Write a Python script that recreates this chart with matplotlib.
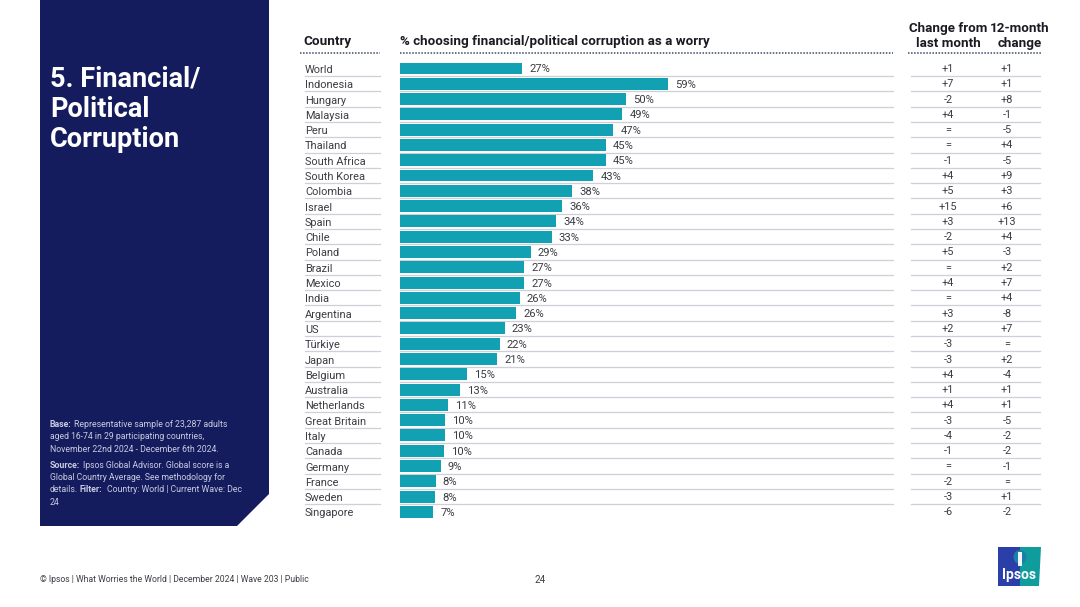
import matplotlib
matplotlib.use('Agg')
import matplotlib.pyplot as plt
from matplotlib.patches import Polygon, Ellipse

plt.rcParams['font.family'] = ['Roboto', 'DejaVu Sans']

# datos
paises = ['World', 'Indonesia', 'Hungary', 'Malaysia', 'Peru', 'Thailand', 'South Africa',
          'South Korea', 'Colombia', 'Israel', 'Spain', 'Chile', 'Poland', 'Brazil', 'Mexico',
          'India', 'Argentina', 'US', 'Türkiye', 'Japan', 'Belgium', 'Australia', 'Netherlands',
          'Great Britain', 'Italy', 'Canada', 'Germany', 'France', 'Sweden', 'Singapore']
valores = [26.9, 59.0, 49.8, 49.0, 47.0, 45.4, 45.4, 42.6, 37.9, 35.7, 34.4, 33.4, 28.8, 27.4,
           27.4, 26.4, 25.6, 23.1, 22.0, 21.4, 14.8, 13.2, 10.6, 10.0, 10.0, 9.7, 9.0, 7.9, 7.7, 7.3]
cambio_mes = ['+1', '+7', '-2', '+4', '=', '=', '-1', '+4', '+5', '+15', '+3', '-2', '+5', '=', '+4',
              '=', '+3', '+2', '-3', '-3', '+4', '+1', '+4', '-3', '-4', '-1', '=', '-2', '-3', '-6']
cambio_anual = ['+1', '+1', '+8', '-1', '-5', '+4', '-5', '+9', '+3', '+6', '+13', '+4', '-3', '+2', '+7',
                '+4', '-8', '+7', '=', '+2', '-4', '+1', '+1', '-5', '-2', '-2', '-1', '=', '+1', '-2']

AZUL = '#141c5e'
TEAL = '#12a1b3'
TEXTO = '#3c3c44'
LINEA = '#cfcfd8'
OSCURO = '#1a1a22'

ANCHO, ALTO = 1080, 607
PRIMERA, PASO = 68.5, 15.29

fig = plt.figure(figsize=(ANCHO / 100, ALTO / 100), dpi=100, facecolor='white')

# capa en pixeles para textos y formas
fondo = fig.add_axes([0, 0, 1, 1])
fondo.set_xlim(0, ANCHO)
fondo.set_ylim(ALTO, 0)
fondo.axis('off')

fondo.add_patch(Polygon([(40, 0), (269, 0), (269, 494), (237, 526), (40, 526)], color=AZUL, lw=0))
for y, linea in [(87, '5. Financial/'), (117, 'Political'), (147, 'Corruption')]:
    fondo.text(50, y, linea, color='white', fontsize=19.5, fontweight='bold', va='baseline')

nota = '#c9cbe0'
fondo.text(50, 424.5, 'Base:', color=nota, fontsize=6.3, fontweight='bold', va='center')
fondo.text(74, 424.5, 'Representative sample of 23,287 adults', color=nota, fontsize=6.3, va='center')
fondo.text(50, 436.5, 'aged 16-74 in 29 participating countries,', color=nota, fontsize=6.2, va='center')
fondo.text(50, 449, 'November 22nd 2024 - December 6th 2024.', color=nota, fontsize=6.3, va='center')
fondo.text(50, 465.5, 'Source:', color=nota, fontsize=6.3, fontweight='bold', va='center')
fondo.text(83, 465.5, 'Ipsos Global Advisor. Global score is a', color=nota, fontsize=6.2, va='center')
fondo.text(50, 478, 'Global Country Average. See methodology for', color=nota, fontsize=6.2, va='center')
fondo.text(50, 490, 'details.', color=nota, fontsize=6.3, va='center')
fondo.text(80, 490, 'Filter:', color=nota, fontsize=6.3, fontweight='bold', va='center')
fondo.text(107, 490, 'Country: World | Current Wave: Dec', color=nota, fontsize=6.3, va='center')
fondo.text(50, 502.5, '24', color=nota, fontsize=6.3, va='center')

# encabezados
fondo.text(303, 41.5, 'Country', color=OSCURO, fontsize=9.7, fontweight='bold', va='center')
fondo.text(400, 41.5, '% choosing financial/political corruption as a worry', color=OSCURO,
           fontsize=9.65, fontweight='bold', va='center')
fondo.text(948, 36, 'Change from\nlast month', color=OSCURO, fontsize=9.6, fontweight='bold',
           va='center', ha='center', linespacing=1.25)
fondo.text(1020, 36, '12-month\nchange', color=OSCURO, fontsize=9.6, fontweight='bold',
           va='center', ha='center', linespacing=1.25)
for x0, x1 in [(300, 380), (400, 893), (908, 1042)]:
    fondo.plot([x0, x1], [53, 53], color='#3d4a66', lw=1.1, ls=(0, (1, 1)))

# filas de la tabla
for i, pais in enumerate(paises):
    y = PRIMERA + i * PASO
    fondo.text(305, y + 1.5, pais, color=TEXTO, fontsize=7.9, va='center')
    fondo.text(948, y + 0.5, cambio_mes[i], color=TEXTO, fontsize=7.8, va='center', ha='center')
    fondo.text(1007, y + 0.5, cambio_anual[i], color=TEXTO, fontsize=7.8, va='center', ha='center')
    if i < len(paises) - 1:
        for x0, x1 in [(305, 380), (400, 893), (911, 1040)]:
            fondo.plot([x0, x1], [y + 7.6, y + 7.6], color=LINEA, lw=0.9)

# barras
arriba = PRIMERA - PASO / 2
barras = fig.add_axes([400 / ANCHO, 1 - (arriba + 30 * PASO) / ALTO, 454 / ANCHO, 30 * PASO / ALTO])
barras.patch.set_alpha(0)
barras.barh(range(len(paises)), valores, height=0.78, color=TEAL)
barras.set_xlim(0, 100)
barras.set_ylim(29.5, -0.5)
barras.axis('off')
for i, v in enumerate(valores):
    barras.annotate(f'{round(v)}%', (v, i), xytext=(7, -1), textcoords='offset pixels', color=TEXTO,
                    fontsize=8.1, va='center')

# pie de pagina
fondo.text(40, 580, '© Ipsos | What Worries the World | December 2024 | Wave 203 | Public', color=TEXTO,
           fontsize=6.2, va='center')
fondo.text(540, 580, '24', color=TEXTO, fontsize=7, va='center', ha='center')

# logo
fondo.add_patch(Polygon([(998, 547), (1020, 547), (1020, 586), (998, 586)], color='#2b3fa8', lw=0))
fondo.add_patch(Polygon([(1020, 547), (1041, 547), (1039, 586), (1020, 586)], color='#0f9c9c', lw=0))
fondo.add_patch(Ellipse((1020, 557), 13, 14, color='#1d7fa8', lw=0))
fondo.add_patch(Polygon([(1018, 552), (1022, 552), (1022, 566), (1018, 566)], color='#eef4f8', lw=0))
fondo.text(1019, 575, 'Ipsos', color='white', fontsize=10, fontweight='bold', va='center', ha='center')

fig.savefig('out.png', dpi=100)
